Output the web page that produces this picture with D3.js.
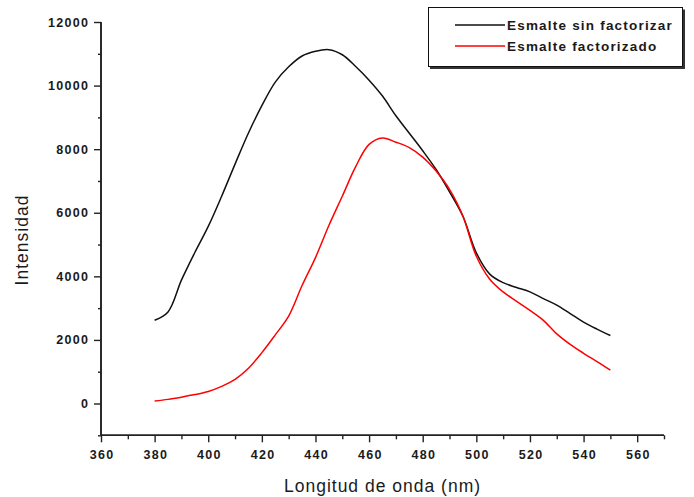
<!DOCTYPE html>
<html>
<head>
<meta charset="utf-8">
<script src="https://cdn.jsdelivr.net/npm/d3@7/dist/d3.min.js"></script>
<style>
    body { margin: 0; background: #fff; }
    svg text { font-family: "Liberation Sans", Arial, sans-serif; fill: #1a1a1a; }
</style>
</head>
<body>
<div class="chart"></div>
<script>
"use strict";

//
/* Data: */
//
var wavelengths = [380, 385, 390, 395, 400, 405, 410, 415, 420, 425, 430, 435, 440, 445, 450, 455, 460,
                   465, 470, 475, 480, 485, 490, 495, 500, 505, 510, 515, 520, 525, 530, 535, 540, 545, 550];

var sinFactorizar = [2620, 2880, 3880, 4750, 5570, 6520, 7530, 8510, 9370, 10110, 10590, 10930, 11080, 11130, 10970, 10600, 10170,
                     9670, 9050, 8500, 7950, 7360, 6660, 5890, 4740, 4070, 3800, 3650, 3510, 3300, 3095, 2830, 2560, 2340, 2140];

var factorizado = [80, 130, 200, 280, 380, 540, 760, 1110, 1600, 2160, 2750, 3710, 4590, 5600, 6520, 7450, 8150,
                   8350, 8220, 8050, 7750, 7310, 6735, 5890, 4630, 3910, 3510, 3215, 2930, 2615, 2190, 1860, 1580, 1320, 1050];

var seriesNames = ["Esmalte sin factorizar", "Esmalte factorizado"];
var seriesColors = ["#111111", "#ff0000"];

var xTicks = [360, 380, 400, 420, 440, 460, 480, 500, 520, 540, 560];
var yTicks = [0, 2000, 4000, 6000, 8000, 10000, 12000];

var xLabel = "Longitud de onda (nm)";
var yLabel = "Intensidad";

var SpectrumChart = function()
{
    var self = this;

    // SVG Properties
    var svgContainer;
    var svgWidth = 694;
    var svgHeight = 497;
    var plot = { left: 101, right: 664, top: 22, bottom: 435.3 };

    var x = d3.scaleLinear().domain([360, 570]).range([plot.left, plot.right]);
    var y = d3.scaleLinear().domain([-1000, 12000]).range([plot.bottom, plot.top]);

    self.createSVG = function()
    {
        svgContainer = d3.select(".chart").append("svg")
                            .attr("width", svgWidth)
                            .attr("height", svgHeight);
    }

    self.createAxes = function()
    {
        // minor ticks first, then the major ones with labels
        var xMinor = d3.axisBottom(x).tickValues(d3.range(370, 571, 20)).tickSize(4).tickFormat("");
        var yMinor = d3.axisLeft(y).tickValues(d3.range(-1000, 12000, 2000)).tickSize(3).tickFormat("");

        var xAxis = d3.axisBottom(x).tickValues(xTicks).tickSize(7).tickPadding(8).tickFormat(d3.format("d"));
        var yAxis = d3.axisLeft(y).tickValues(yTicks).tickSize(7).tickPadding(6).tickFormat(d3.format("d"));

        [xMinor, xAxis].forEach(function(ax)
        {
            svgContainer.append("g")
                        .attr("class", "xAxis")
                        .attr("transform", "translate(0," + plot.bottom + ")")
                        .call(ax);
        });

        [yMinor, yAxis].forEach(function(ax)
        {
            svgContainer.append("g")
                        .attr("class", "yAxis")
                        .attr("transform", "translate(" + plot.left + ",0)")
                        .call(ax);
        });

        svgContainer.selectAll(".xAxis path, .yAxis path")
                    .attr("stroke", "#222")
                    .attr("stroke-width", 1.6)
                    .attr("d", function()
                    {
                        return d3.select(this.parentNode).classed("xAxis")
                            ? "M" + plot.left + ",0H" + plot.right
                            : "M0," + plot.top + "V" + plot.bottom;
                    });

        svgContainer.selectAll(".tick line")
                    .attr("stroke", "#222")
                    .attr("stroke-width", 1.4);

        svgContainer.selectAll(".tick text")
                    .attr("font-size", "12.5px")
                    .attr("font-weight", "bold")
                    .attr("letter-spacing", "1.3px")
                    .attr("fill", "#262626");

        svgContainer.selectAll(".xAxis .tick text").attr("dx", "0.65px");
        svgContainer.selectAll(".yAxis .tick text").attr("dx", "1.3px");

        svgContainer.append("text")
                    .attr("x", (plot.left + plot.right) / 2)
                    .attr("y", 491.5)
                    .attr("text-anchor", "middle")
                    .attr("font-size", "17.5px")
                    .attr("letter-spacing", "1px")
                    .text(xLabel);

        svgContainer.append("text")
                    .attr("transform", "translate(28,240) rotate(-90)")
                    .attr("text-anchor", "middle")
                    .attr("font-size", "17.5px")
                    .attr("letter-spacing", "1px")
                    .text(yLabel);
    }

    self.createLines = function()
    {
        var line = d3.line()
                     .curve(d3.curveCatmullRom)
                     .x(function(d, i) { return x(wavelengths[i]); })
                     .y(function(d) { return y(d); });

        svgContainer.selectAll(".series")
                    .data([sinFactorizar, factorizado])
                    .enter()
                    .append("path")
                    .attr("class", "series")
                    .attr("d", line)
                    .attr("fill", "none")
                    .attr("stroke", function(d, i) { return seriesColors[i]; })
                    .attr("stroke-width", 1.5)
                    .attr("stroke-linejoin", "round");
    }

    self.createLegend = function()
    {
        var legend = svgContainer.append("g").attr("class", "legend");

        // shadow, then box
        legend.append("rect")
              .attr("x", 430).attr("y", 9.5)
              .attr("width", 255).attr("height", 59.5)
              .attr("fill", "#333");

        legend.append("rect")
              .attr("x", 428.5).attr("y", 7.5)
              .attr("width", 254).attr("height", 59)
              .attr("fill", "#fff")
              .attr("stroke", "#111")
              .attr("stroke-width", 1);

        var rows = legend.selectAll(".legendRow")
                         .data(seriesNames)
                         .enter()
                         .append("g")
                         .attr("class", "legendRow")
                         .attr("transform", function(d, i) { return "translate(0," + (25 + i * 21) + ")"; });

        rows.append("line")
            .attr("x1", 455).attr("x2", 505)
            .attr("y1", 0).attr("y2", 0)
            .attr("stroke", function(d, i) { return seriesColors[i]; })
            .attr("stroke-width", 1.5);

        rows.append("text")
            .attr("x", 507)
            .attr("y", 5)
            .attr("font-size", "13.5px")
            .attr("font-weight", "bold")
            .attr("letter-spacing", "1.2px")
            .attr("fill", "#262626")
            .text(function(d) { return d; });
    }

    self.createSVG();
    self.createAxes();
    self.createLines();
    self.createLegend();
}

new SpectrumChart();
</script>
</body>
</html>
